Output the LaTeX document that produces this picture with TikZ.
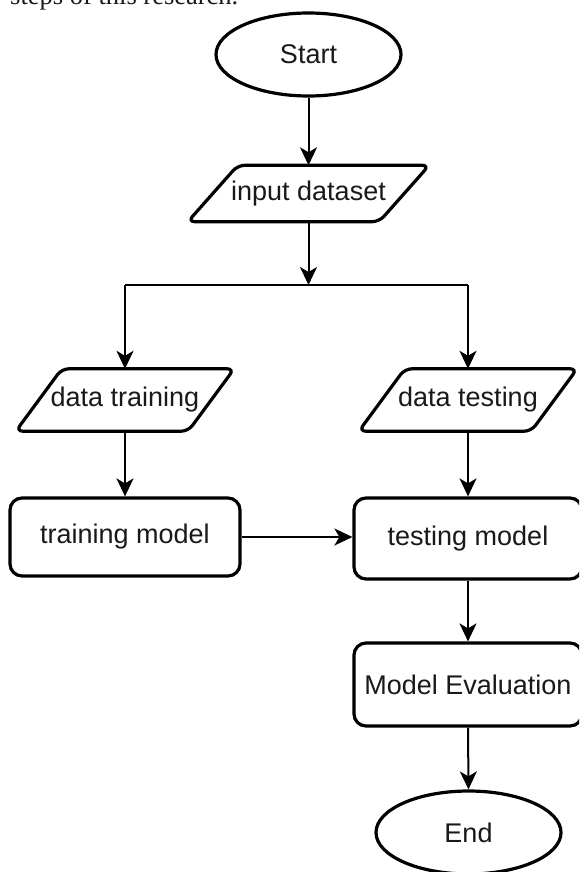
\documentclass[tikz,border=0pt]{standalone}
\usepackage{fontspec}
\setmainfont{Liberation Sans}
\newfontfamily\capfont{Liberation Serif}
\usetikzlibrary{shapes.geometric,arrows.meta,calc}
\begin{document}
\begin{tikzpicture}[x=1pt,y=-1pt,
  every node/.style={font=\fontsize{27}{32}\selectfont, text=black!90},
  term/.style={ellipse, draw, line width=3.2pt, minimum width=185pt, minimum height=83pt, inner sep=0pt},
  io/.style={rectangle, draw=none, inner sep=0pt},
  iopath/.style={draw, line width=3.2pt, rounded corners=7pt},
  proc/.style={rectangle, rounded corners=12pt, draw, line width=3.2pt, inner sep=0pt},
  arr/.style={line width=2pt, -{Stealth[length=18pt,width=17pt,inset=5pt]}},
  conn/.style={line width=2pt}
]
\useasboundingbox (0,0) rectangle (579,872);
\clip (0,0) rectangle (579,872);
\fill[white] (0,0) rectangle (579,872);

\node[font=\capfont\fontsize{26.5}{30}\selectfont, anchor=base west, inner sep=0pt] (cap) at (10,5) {steps of this research.};

\node[term] (start) at (308.5,54.5) {Start};

\node[io, minimum width=241pt, minimum height=56pt] (input) at (308.5,193.5) {input dataset};
\draw[iopath] ([xshift=50pt]input.north west) -- (input.north east) -- ([xshift=-50pt]input.south east) -- (input.south west) -- cycle;

\node[io, minimum width=218pt, minimum height=62pt] (dtrain) at (125,400) {data training};
\draw[iopath] ([xshift=46pt]dtrain.north west) -- (dtrain.north east) -- ([xshift=-46pt]dtrain.south east) -- (dtrain.south west) -- cycle;

\node[io, minimum width=218pt, minimum height=62pt] (dtest) at (468,400) {data testing};
\draw[iopath] ([xshift=46pt]dtest.north west) -- (dtest.north east) -- ([xshift=-46pt]dtest.south east) -- (dtest.south west) -- cycle;

\node[proc, minimum width=230pt, minimum height=78pt] (trainm) at (125,537) {training model};
\node[proc, minimum width=228pt, minimum height=81pt] (testm) at (468,538.5) {testing model};
\node[proc, minimum width=228pt, minimum height=83pt] (eval) at (468,684.5) {Model Evaluation};
\node[term] (end) at (468.5,832.5) {End};

\coordinate (split) at (308.5,285);

\draw[arr] (start) -- (input.north);
\draw[arr] (input.south) -- (split);
\draw[conn] (split -| dtrain.north) -- (split -| dtest.north);
\draw[arr] (split -| dtrain.north) -- (dtrain.north);
\draw[arr] (split -| dtest.north) -- (dtest.north);
\draw[arr] (dtrain.south) -- (trainm.north);
\draw[arr] (dtest.south) -- (testm.north);
\draw[arr] (trainm.east) -- (trainm.east -| testm.west);
\draw[arr] (testm.south) -- (eval.north);
\draw[arr] (eval.south) -- (end.north);
\end{tikzpicture}
\end{document}
